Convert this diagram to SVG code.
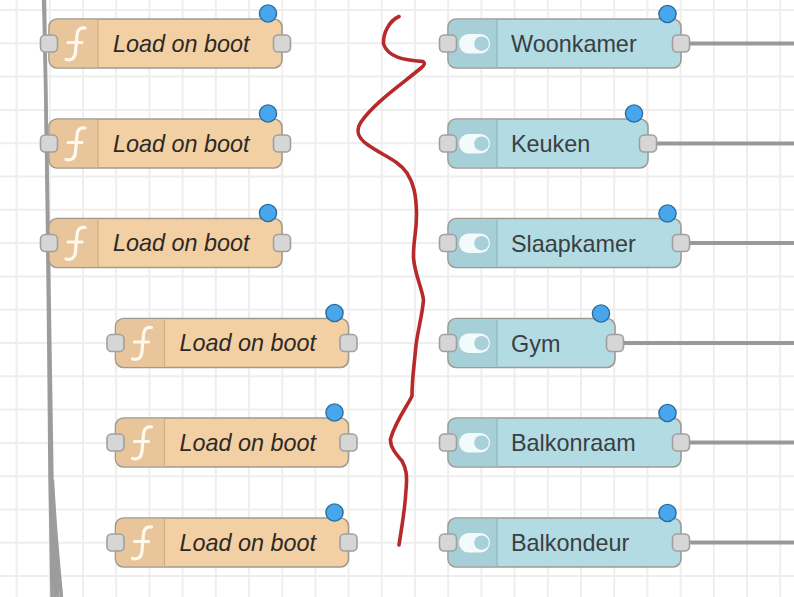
<svg xmlns="http://www.w3.org/2000/svg" width="794" height="597" viewBox="0 0 794 597">
<defs>
<style>
.g{stroke:#eeeeee;stroke-width:2;fill:none}
.w{stroke:#999;stroke-width:4;fill:none}
.c{stroke:#9c9c9c;stroke-width:3.400;fill:none}
.body{stroke:#a09a90;stroke-width:1.6}
.fn{fill:#f3d0a4}.inj{fill:#b3dbe3}
.ifn{fill:#e8c59a}.iinj{fill:#a6cfd7}
.port{fill:#d6d6d6;stroke:#a0a0a0;stroke-width:1.6}
.badge{fill:#47a6ec;stroke:#2a6d9e;stroke-width:1.4}
.t{font-family:"Liberation Sans",Arial,sans-serif;font-size:23.4px;fill:#3a3f42}
.i{font-style:italic;fill:#2d2a26}
.ficon{fill:none;stroke:#fff8ec;stroke-width:3.2;stroke-linecap:round}
</style>
<g id="fnshape">
<rect class="body fn" x="0" y="0" width="233" height="49" rx="8"/>
<path class="ifn" d="M8 .8H49V48.2H8A7.2 7.2 0 0 1 .8 41V8A7.2 7.2 0 0 1 8 .8Z"/>
<path d="M49 1V48" stroke="#d4ad7e" stroke-width="1.2"/>
<path class="ficon" d="M36 9C31 8 28.500 11 28 16L26.500 33C26 39 23 42 17 40.500M19 23.500H33"/>
<rect class="port" x="-8.500" y="16" width="17" height="17" rx="4.500"/>
<rect class="port" x="224.500" y="16" width="17" height="17" rx="4.500"/>
<circle class="badge" cx="219" cy="-5.500" r="8.600"/>
</g>
<g id="toggle">
<rect x="11" y="15" width="31" height="19.500" rx="9.700" fill="#f3fafb"/>
<circle cx="33.500" cy="24.700" r="7.300" fill="#a7d0d8"/>
</g>
</defs>
<rect width="794" height="597" fill="#fff"/>
<g id="grid" class="g">
<path d="M16.600 0V597M49.800 0V597M83 0V597M116.200 0V597M149.400 0V597M182.600 0V597M215.800 0V597M249 0V597M282.200 0V597M315.400 0V597M348.600 0V597M381.800 0V597M415 0V597M448.200 0V597M481.400 0V597M514.600 0V597M547.800 0V597M581 0V597M614.200 0V597M647.400 0V597M680.600 0V597M713.800 0V597M747 0V597M780.200 0V597"/>
<path d="M0 10H794M0 43.300H794M0 76.600H794M0 109.900H794M0 143.200H794M0 176.500H794M0 209.800H794M0 243.100H794M0 276.400H794M0 309.700H794M0 343H794M0 376.300H794M0 409.600H794M0 442.900H794M0 476.200H794M0 509.500H794M0 542.800H794M0 576.100H794"/>
</g>
<g id="connectors">
<path class="c" d="M43.500 0C46 70 48 250 50 480C50.500 530 51.500 570 52 597"/>
<path class="c" d="M44.500 0C47 70 49 250 52 480C53 530 54.500 570 55 597"/>
<path class="c" d="M52 480C54 530 56.500 570 58 597"/>
<path class="c" d="M52.500 480C55 530 59 570 61.500 597"/>
<path class="w" d="M681 43.500H794"/>
<path class="w" d="M648 143.500H794"/>
<path class="w" d="M681 243H794"/>
<path class="w" d="M615 343H794"/>
<path class="w" d="M681 442.500H794"/>
<path class="w" d="M681 542.500H794"/>
</g>
<g id="fn1" transform="translate(49,19)"><use href="#fnshape"/><text class="t i" x="64" y="32.500">Load on boot</text></g>
<g id="fn2" transform="translate(49,119)"><use href="#fnshape"/><text class="t i" x="64" y="32.500">Load on boot</text></g>
<g id="fn3" transform="translate(49,218.500)"><use href="#fnshape"/><text class="t i" x="64" y="32.500">Load on boot</text></g>
<g id="fn4" transform="translate(115.500,318.500)"><use href="#fnshape"/><text class="t i" x="64" y="32.500">Load on boot</text></g>
<g id="fn5" transform="translate(115.500,418)"><use href="#fnshape"/><text class="t i" x="64" y="32.500">Load on boot</text></g>
<g id="fn6" transform="translate(115.500,518)"><use href="#fnshape"/><text class="t i" x="64" y="32.500">Load on boot</text></g>
<g id="inj1" transform="translate(448,19)">
<rect class="body inj" width="233" height="49" rx="8"/><path class="iinj" d="M8 .8H49V48.200H8A7.200 7.200 0 0 1 .8 41V8A7.200 7.200 0 0 1 8 .8Z"/><path d="M49 1V48" stroke="#90b8c0" stroke-width="1.200"/>
<use href="#toggle"/><rect class="port" x="-8.500" y="16" width="17" height="17" rx="4.500"/><rect class="port" x="224.500" y="16" width="17" height="17" rx="4.500"/><circle class="badge" cx="219.500" cy="-5" r="8.600"/>
<text class="t" x="63" y="33">Woonkamer</text></g>
<g id="inj2" transform="translate(448,119)">
<rect class="body inj" width="200" height="49" rx="8"/><path class="iinj" d="M8 .8H49V48.200H8A7.200 7.200 0 0 1 .8 41V8A7.200 7.200 0 0 1 8 .8Z"/><path d="M49 1V48" stroke="#90b8c0" stroke-width="1.200"/>
<use href="#toggle"/><rect class="port" x="-8.500" y="16" width="17" height="17" rx="4.500"/><rect class="port" x="191.500" y="16" width="17" height="17" rx="4.500"/><circle class="badge" cx="186" cy="-5.500" r="8.600"/>
<text class="t" x="63" y="33">Keuken</text></g>
<g id="inj3" transform="translate(448,218.500)">
<rect class="body inj" width="233" height="49" rx="8"/><path class="iinj" d="M8 .8H49V48.200H8A7.200 7.200 0 0 1 .8 41V8A7.200 7.200 0 0 1 8 .8Z"/><path d="M49 1V48" stroke="#90b8c0" stroke-width="1.200"/>
<use href="#toggle"/><rect class="port" x="-8.500" y="16" width="17" height="17" rx="4.500"/><rect class="port" x="224.500" y="16" width="17" height="17" rx="4.500"/><circle class="badge" cx="219.500" cy="-5" r="8.600"/>
<text class="t" x="63" y="33">Slaapkamer</text></g>
<g id="inj4" transform="translate(448,318.500)">
<rect class="body inj" width="167" height="49" rx="8"/><path class="iinj" d="M8 .8H49V48.200H8A7.200 7.200 0 0 1 .8 41V8A7.200 7.200 0 0 1 8 .8Z"/><path d="M49 1V48" stroke="#90b8c0" stroke-width="1.200"/>
<use href="#toggle"/><rect class="port" x="-8.500" y="16" width="17" height="17" rx="4.500"/><rect class="port" x="158.500" y="16" width="17" height="17" rx="4.500"/><circle class="badge" cx="153" cy="-5" r="8.600"/>
<text class="t" x="63" y="33">Gym</text></g>
<g id="inj5" transform="translate(448,418)">
<rect class="body inj" width="233" height="49" rx="8"/><path class="iinj" d="M8 .8H49V48.200H8A7.200 7.200 0 0 1 .8 41V8A7.200 7.200 0 0 1 8 .8Z"/><path d="M49 1V48" stroke="#90b8c0" stroke-width="1.200"/>
<use href="#toggle"/><rect class="port" x="-8.500" y="16" width="17" height="17" rx="4.500"/><rect class="port" x="224.500" y="16" width="17" height="17" rx="4.500"/><circle class="badge" cx="219.500" cy="-5" r="8.600"/>
<text class="t" x="63" y="33">Balkonraam</text></g>
<g id="inj6" transform="translate(448,518)">
<rect class="body inj" width="233" height="49" rx="8"/><path class="iinj" d="M8 .8H49V48.200H8A7.200 7.200 0 0 1 .8 41V8A7.200 7.200 0 0 1 8 .8Z"/><path d="M49 1V48" stroke="#90b8c0" stroke-width="1.200"/>
<use href="#toggle"/><rect class="port" x="-8.500" y="16" width="17" height="17" rx="4.500"/><rect class="port" x="224.500" y="16" width="17" height="17" rx="4.500"/><circle class="badge" cx="219.500" cy="-5" r="8.600"/>
<text class="t" x="63" y="33">Balkondeur</text></g>
<path id="squiggle" fill="none" stroke="#b62a2c" stroke-width="3.600" stroke-linecap="round" stroke-linejoin="round" d="M399 16.500C389 21 383 33 383.500 44C388 57 403 60 423 61.500C425 63 425 65 421 68C402 84 375 102 361 122C355 131 358 138 368 145C382 155 398 160 407 173C414 184 416 195 416.500 212C417 232 413 240 413.500 258C415 275 422 288 423.500 300C422 318 417 332 415.500 350C414 368 412 378 412 396C408 405 396 420 390.500 439C390 447 396 454 402 461C406 468 407.500 475 406 490C405 510 402 525 399 545"/>
</svg>
